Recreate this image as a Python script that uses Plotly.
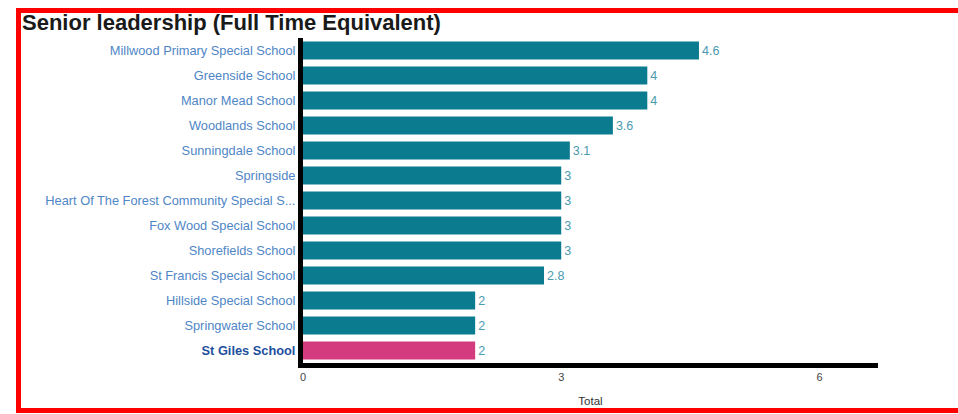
import plotly.graph_objects as go

schools = [
    "Millwood Primary Special School",
    "Greenside School",
    "Manor Mead School",
    "Woodlands School",
    "Sunningdale School",
    "Springside",
    "Heart Of The Forest Community Special S...",
    "Fox Wood Special School",
    "Shorefields School",
    "St Francis Special School",
    "Hillside Special School",
    "Springwater School",
    "St Giles School",
]
values = [4.6, 4, 4, 3.6, 3.1, 3, 3, 3, 3, 2.8, 2, 2, 2]
highlight = "St Giles School"
x_ticks = [0, 3, 6]

W, H = 958, 414
ML, MR, MT, MB = 303, 80, 38, 51
PW, PH = W - ML - MR, H - MT - MB

teal = "#0b7b90"
pink = "#d43a7e"
colors = [pink if s == highlight else teal for s in schools]

ticktext = [
    f"<span style='color:#1d4f9e'><b>{s}</b></span>" if s == highlight else s
    for s in schools
]

fig = go.Figure(
    go.Bar(
        x=values,
        y=schools,
        orientation="h",
        marker=dict(color=colors, line=dict(width=0)),
        text=[f"{v:g}" for v in values],
        textposition="outside",
        textfont=dict(family="Arial", size=12.5, color="#4a9ab0"),
        cliponaxis=False,
        width=0.72,
    )
)


def px_x(p):
    return (p - ML) / PW


def px_y(p):
    return (H - MB - p) / PH


fig.add_shape(
    type="rect",
    xref="paper", yref="paper",
    x0=px_x(18.5), x1=px_x(975),
    y0=px_y(410.5), y1=px_y(10.5),
    line=dict(color="#ff0000", width=5),
    fillcolor="rgba(0,0,0,0)",
)

fig.update_layout(
    width=W,
    height=H,
    margin=dict(l=ML, r=MR, t=MT, b=MB),
    paper_bgcolor="white",
    plot_bgcolor="white",
    showlegend=False,
    title=dict(
        text="<b>Senior leadership (Full Time Equivalent)</b>",
        x=22 / W, xanchor="left",
        y=1 - 22 / H, yanchor="middle",
        font=dict(family="Arial", size=22, color="#1a1a1a"),
    ),
    xaxis=dict(
        range=[0, 6.68],
        tickvals=x_ticks,
        ticktext=[str(t) for t in x_ticks],
        showgrid=False,
        zeroline=False,
        showline=True,
        linecolor="black",
        linewidth=5,
        ticks="",
        automargin=False,
        tickfont=dict(family="Arial", size=11, color="#444"),
        title=dict(text="Total", font=dict(family="Arial", size=11.5, color="#333"), standoff=16),
    ),
    yaxis=dict(
        categoryorder="array",
        categoryarray=schools[::-1],
        tickvals=schools,
        ticktext=ticktext,
        showgrid=False,
        zeroline=False,
        showline=True,
        linecolor="black",
        linewidth=5,
        ticks="",
        automargin=False,
        tickfont=dict(family="Arial", size=12.8, color="#4f86c6"),
    ),
    bargap=0.28,
)

fig.write_html("out.html")
